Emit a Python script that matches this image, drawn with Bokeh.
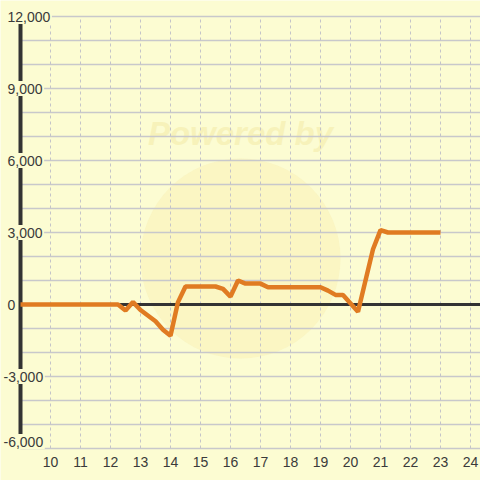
from bokeh.plotting import figure
from bokeh.models import Range1d
from bokeh.core.properties import value
from bokeh.embed import file_html
from bokeh.resources import INLINE

# ---- data ----
hours = [9, 12.25, 12.5, 12.75, 13.0, 13.5, 13.75, 14.0, 14.25, 14.5, 15.0, 15.5,
         15.75, 16.0, 16.25, 16.5, 17.0, 17.25, 18.0, 19.0, 19.25, 19.5, 19.75,
         20.25, 20.75, 21.0, 21.25, 22.0, 23.0]
profit = [0, 0, -250, 100, -230, -700, -1050, -1300, 100, 750, 750, 750,
          650, 330, 1000, 870, 870, 720, 720, 720, 580, 400, 400,
          -300, 2300, 3100, 3000, 3000, 3000]
x_ticks = list(range(10, 25))
y_ticks = [-6000, -3000, 0, 3000, 6000, 9000, 12000]
y_grid = list(range(-6000, 12001, 1000))

BG = "#fcfcd2"
AXIS = "#333333"
FONT = "Liberation Sans"

W = H = 480
PX_PER_X = 30.0           # pixels per hour
PX_PER_Y = 0.024          # pixels per unit
x0 = 9 - 20 / PX_PER_X
x1 = x0 + W / PX_PER_X
y1 = 12000 + 16 / PX_PER_Y
y0 = y1 - H / PX_PER_Y

def px_x(px):
    return x0 + px / PX_PER_X

p = figure(width=W, height=H, x_range=Range1d(x0, x1), y_range=Range1d(y0, y1),
           output_backend="svg", toolbar_location=None,
           x_axis_location=None, y_axis_location=None, min_border=0)
p.background_fill_color = BG
p.border_fill_color = BG
p.outline_line_color = None
p.grid.visible = False

# ---- faint watermark ----
cx = px_x(240)
cy = (304 - 258) / 24 * 1000
p.circle(x=[cx], y=[cy], radius=100, radius_units="screen",
         fill_color="#f9efb4", fill_alpha=0.5, line_color=None)
p.text(x=[cx], y=[(304 - 133) / 24 * 1000], text=["Powered by"],
       text_font=value(FONT), text_font_size="33px", text_font_style="bold italic",
       text_color="#f3eaa6", text_alpha=0.55, text_align="center", text_baseline="middle")

# ---- grid ----
xmin_line = 9
p.segment(x0=[xmin_line] * len(y_grid), x1=[x1] * len(y_grid), y0=y_grid, y1=y_grid,
          line_color="#c8c8cb", line_width=1.3)
p.segment(x0=x_ticks, x1=x_ticks, y0=[-6000] * len(x_ticks), y1=[12000] * len(x_ticks),
          line_color="#c4c4c8", line_width=1, line_dash="3 3")

# ---- axis lines ----
p.segment(x0=[xmin_line], x1=[xmin_line], y0=[-6000], y1=[12000],
          line_color=AXIS, line_width=4)
p.segment(x0=[xmin_line], x1=[x1], y0=[0], y1=[0], line_color=AXIS, line_width=3)

# ---- data line ----
p.line(hours, profit, line_color="#e07b22", line_width=4.5)

# ---- y tick labels (with background patches hiding the axis line) ----
def fmt(v):
    return f"{v:,}"

def text_w(s):
    return sum(3.9 if c == "," else 4.7 if c == "-" else 7.8 for c in s)

shift = 7 / PX_PER_Y  # bottom label nudged up
lab_y = [t + shift if t == min(y_ticks) else t for t in y_ticks]
lab_txt = [fmt(t) for t in y_ticks]
lab_left = [3 if t < 0 else 7 for t in y_ticks]
rect_x = [px_x(l + text_w(s) / 2) for l, s in zip(lab_left, lab_txt)]
rect_w = [text_w(s) + 3 for s in lab_txt]
p.rect(x=rect_x, y=lab_y, width=rect_w, height=15, width_units="screen",
       height_units="screen", fill_color=BG, line_color=None)
p.text(x=[px_x(l) for l in lab_left], y=lab_y, text=lab_txt,
       text_font=value(FONT), text_font_size="14px", text_color="#3a3a3a",
       text_align="left", text_baseline="middle")

# ---- x tick labels ----
p.text(x=x_ticks, y=[-6000 - 13 / PX_PER_Y] * len(x_ticks), text=[str(t) for t in x_ticks],
       text_font=value(FONT), text_font_size="14px", text_color="#3a3a3a",
       text_align="center", text_baseline="middle")

open("out.html", "w").write(file_html(p, INLINE))
